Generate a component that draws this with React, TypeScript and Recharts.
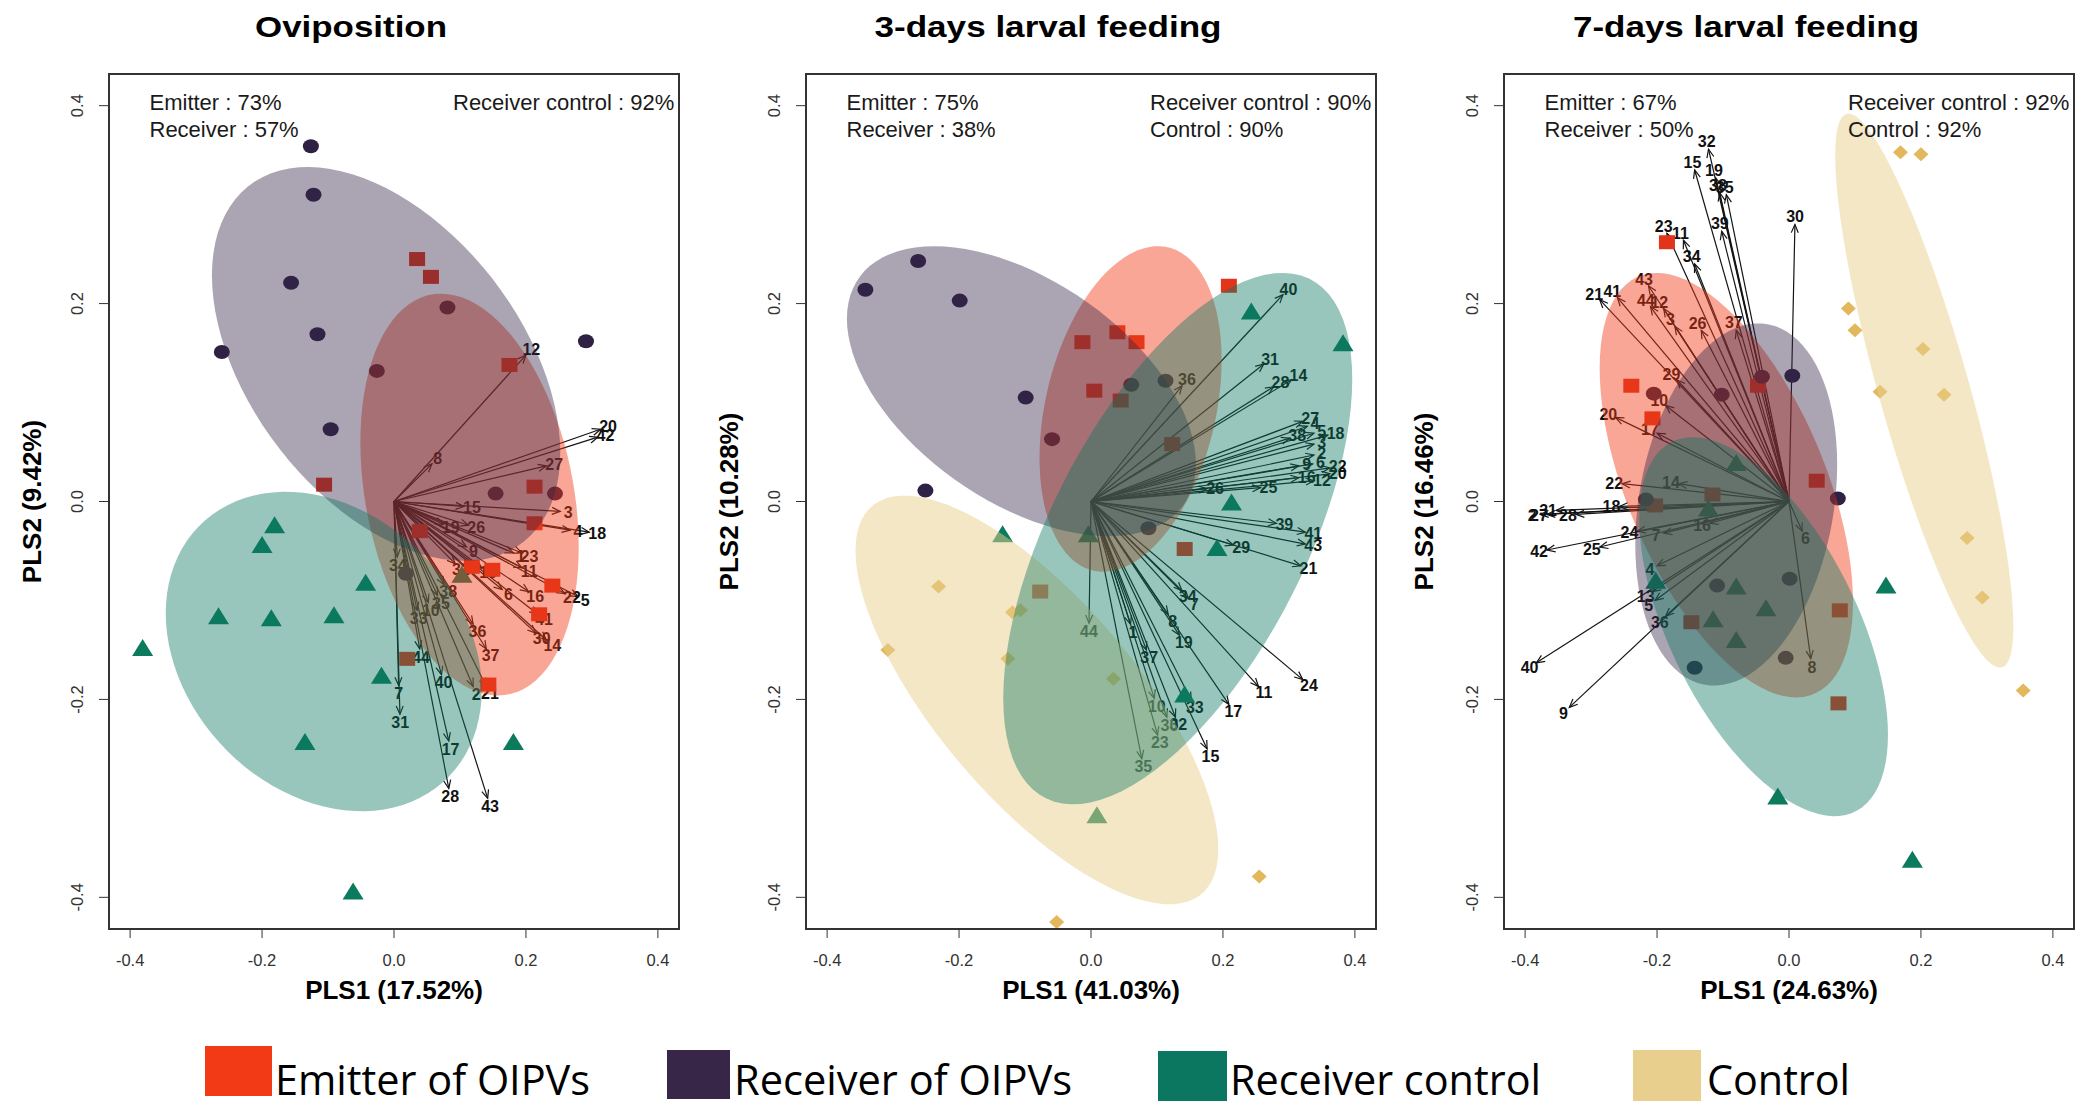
import React from "react";
import { ScatterChart, Scatter, XAxis, YAxis, ReferenceLine, ReferenceArea } from "recharts";

const FONT = "'Liberation Sans', Arial, Helvetica, sans-serif";
const LIM = 0.432;
const TICKS = [-0.4, -0.2, 0, 0.2, 0.4];

type P = [number, number];
type A = [number, number, string];
type E = { cx: number; cy: number; rx: number; ry: number; rho: number };

// group colours (legend / ellipses) and point colours
const GROUP = ["Emitter of OIPVs", "Receiver of OIPVs", "Receiver control", "Control"];
const FILL = ["#F23A17", "#372648", "#0C7760", "#E9CF8D"];
const POINT = ["#E1341B", "#2E2144", "#0B7A5D", "#E3B85C"];
const OPAC = [0.45, 0.42, 0.42, 0.5];

// ---------- Oviposition ----------
const ovEmitter: P[] = [[0.035, 0.245], [0.056, 0.227], [0.175, 0.138], [-0.106, 0.017], [0.213, 0.015], [0.213, -0.022], [0.039, -0.03], [0.118, -0.066], [0.149, -0.069], [0.24, -0.085], [0.22, -0.114], [0.02, -0.159], [0.143, -0.185]];
const ovReceiver: P[] = [[-0.126, 0.359], [-0.122, 0.31], [-0.156, 0.221], [-0.116, 0.169], [-0.261, 0.151], [0.081, 0.196], [-0.026, 0.132], [0.291, 0.162], [-0.096, 0.073], [0.154, 0.008], [0.244, 0.008], [0.018, -0.073]];
const ovRecControl: P[] = [[-0.181, -0.025], [-0.2, -0.045], [-0.043, -0.083], [-0.266, -0.117], [-0.186, -0.119], [-0.091, -0.116], [-0.381, -0.149], [-0.019, -0.177], [-0.135, -0.244], [0.181, -0.244], [-0.062, -0.395], [0.103, -0.075]];
const ovArrows: A[] = [[0.2, 0.148, "12"], [0.313, 0.073, "20"], [0.309, 0.065, "42"], [0.231, 0.036, "27"], [0.0575, 0.038, "8"], [0.106, -0.005, "15"], [0.252, -0.01, "3"], [0.267, -0.029, "4"], [0.296, -0.031, "18"], [0.075, -0.023, "19"], [0.113, -0.024, "26"], [0.181, -0.052, "1"], [0.194, -0.052, "23"], [0.194, -0.067, "11"], [0.11, -0.046, "9"], [0.093, -0.063, "32"], [0.133, -0.067, "13"], [0.164, -0.089, "6"], [0.204, -0.091, "16"], [0.259, -0.093, "22"], [0.279, -0.096, "5"], [0.218, -0.114, "41"], [0.215, -0.133, "30"], [0.231, -0.14, "14"], [0.12, -0.124, "36"], [0.14, -0.149, "37"], [0.076, -0.084, "38"], [0.066, -0.095, "35"], [0.005, -0.056, "34"], [0.035, -0.11, "33"], [0.052, -0.102, "10"], [0.039, -0.149, "44"], [0.072, -0.175, "40"], [0.12, -0.187, "2"], [0.14, -0.187, "21"], [0.007, -0.186, "7"], [0.009, -0.215, "31"], [0.083, -0.242, "17"], [0.083, -0.29, "28"], [0.142, -0.3, "43"]];
// ellipses: emitter, receiver, receiver control (null = absent)
const ovEllipses: (E | null)[] = [
  { cx: 0.1145, cy: 0.007, rx: 0.1655, ry: 0.203, rho: -0.26 },
  { cx: -0.012, cy: 0.139, rx: 0.264, ry: 0.199, rho: -0.45 },
  { cx: -0.1065, cy: -0.1516, rx: 0.2395, ry: 0.1614, rho: -0.24 },
  null,
];

// ---------- 3-days larval feeding ----------
const l3Emitter: P[] = [[0.209, 0.218], [-0.013, 0.161], [0.04, 0.171], [0.069, 0.161], [0.005, 0.112], [0.045, 0.102], [0.123, 0.058], [0.142, -0.048], [-0.077, -0.091]];
const l3Receiver: P[] = [[-0.342, 0.214], [-0.262, 0.243], [-0.199, 0.203], [-0.099, 0.105], [-0.059, 0.063], [0.061, 0.118], [0.113, 0.122], [-0.251, 0.011], [0.087, -0.027]];
const l3RecControl: P[] = [[0.243, 0.191], [0.382, 0.159], [0.213, -0.002], [-0.004, -0.034], [-0.134, -0.034], [0.191, -0.048], [0.142, -0.196], [0.009, -0.318]];
const l3Control: P[] = [[-0.231, -0.086], [-0.119, -0.112], [-0.107, -0.11], [-0.308, -0.15], [-0.126, -0.159], [0.034, -0.179], [0.255, -0.379], [-0.052, -0.425]];
const l3Arrows: A[] = [[0.291, 0.209, "40"], [0.262, 0.139, "31"], [0.304, 0.123, "14"], [0.277, 0.116, "28"], [0.138, 0.117, "36"], [0.321, 0.081, "27"], [0.328, 0.076, "4"], [0.301, 0.064, "38"], [0.338, 0.069, "5"], [0.359, 0.067, "18"], [0.338, 0.058, "3"], [0.338, 0.047, "2"], [0.315, 0.036, "9"], [0.336, 0.038, "6"], [0.362, 0.034, "22"], [0.362, 0.028, "20"], [0.315, 0.024, "16"], [0.338, 0.021, "12"], [0.176, 0.013, "26"], [0.257, 0.014, "25"], [0.281, -0.022, "39"], [0.325, -0.031, "41"], [0.325, -0.043, "43"], [0.216, -0.044, "29"], [0.318, -0.065, "21"], [0.138, -0.09, "34"], [0.148, -0.098, "7"], [0.117, -0.114, "8"], [0.134, -0.135, "19"], [-0.003, -0.123, "44"], [0.06, -0.124, "1"], [0.084, -0.15, "37"], [0.254, -0.187, "11"], [0.321, -0.18, "24"], [0.152, -0.201, "33"], [0.209, -0.205, "17"], [0.096, -0.199, "10"], [0.115, -0.218, "30"], [0.128, -0.218, "32"], [0.101, -0.236, "23"], [0.176, -0.25, "15"], [0.077, -0.26, "35"]];
const l3Ellipses: (E | null)[] = [
  { cx: 0.06, cy: 0.0935, rx: 0.138, ry: 0.1645, rho: 0.3 },
  { cx: -0.1055, cy: 0.1115, rx: 0.2645, ry: 0.1465, rho: -0.5 },
  { cx: 0.1315, cy: -0.0375, rx: 0.2645, ry: 0.2685, rho: 0.6 },
  { cx: -0.082, cy: -0.2005, rx: 0.275, ry: 0.2065, rho: -0.73 },
];

// ---------- 7-days larval feeding ----------
const l7Emitter: P[] = [[-0.185, 0.262], [-0.239, 0.117], [-0.207, 0.084], [-0.047, 0.117], [0.042, 0.021], [-0.116, 0.007], [-0.203, -0.004], [0.077, -0.11], [-0.148, -0.122], [0.075, -0.204]];
const l7Receiver: P[] = [[-0.205, 0.109], [-0.102, 0.108], [-0.041, 0.126], [0.005, 0.127], [0.074, 0.003], [-0.217, 0.002], [0.001, -0.078], [-0.109, -0.085], [-0.005, -0.158], [-0.143, -0.168]];
const l7RecControl: P[] = [[-0.08, 0.038], [-0.122, -0.008], [-0.202, -0.081], [-0.08, -0.087], [-0.035, -0.109], [-0.115, -0.12], [-0.08, -0.141], [0.147, -0.086], [-0.017, -0.299], [0.187, -0.363]];
const l7Control: P[] = [[0.169, 0.353], [0.2, 0.351], [0.09, 0.195], [0.1, 0.173], [0.203, 0.154], [0.138, 0.111], [0.235, 0.108], [0.27, -0.037], [0.293, -0.097], [0.355, -0.191]];
const l7Arrows: A[] = [[-0.122, 0.356, "32"], [-0.143, 0.335, "15"], [-0.111, 0.327, "19"], [-0.105, 0.312, "38"], [-0.095, 0.31, "35"], [0.009, 0.28, "30"], [-0.102, 0.273, "39"], [-0.185, 0.271, "23"], [-0.16, 0.264, "11"], [-0.143, 0.24, "34"], [-0.213, 0.218, "43"], [-0.287, 0.204, "21"], [-0.26, 0.206, "41"], [-0.21, 0.197, "44"], [-0.19, 0.195, "12"], [-0.173, 0.177, "3"], [-0.133, 0.173, "26"], [-0.08, 0.173, "37"], [-0.17, 0.123, "29"], [-0.187, 0.097, "10"], [-0.263, 0.085, "20"], [-0.2, 0.069, "17"], [-0.167, 0.018, "14"], [-0.253, 0.018, "22"], [-0.257, -0.005, "18"], [-0.367, -0.013, "27"], [-0.353, -0.009, "31"], [-0.377, -0.013, "2"], [-0.323, -0.013, "28"], [-0.12, -0.022, "16"], [0.02, -0.03, "6"], [-0.23, -0.03, "24"], [-0.19, -0.032, "7"], [-0.367, -0.049, "42"], [-0.287, -0.046, "25"], [-0.2, -0.065, "4"], [-0.207, -0.091, "13"], [-0.203, -0.1, "5"], [-0.187, -0.116, "36"], [0.033, -0.159, "8"], [-0.383, -0.163, "40"], [-0.333, -0.208, "9"]];
const l7Ellipses: (E | null)[] = [
  { cx: -0.095, cy: 0.0165, rx: 0.192, ry: 0.2145, rho: -0.55 },
  { cx: -0.08, cy: -0.003, rx: 0.153, ry: 0.183, rho: 0.22 },
  { cx: -0.0385, cy: -0.1265, rx: 0.1885, ry: 0.1915, rho: -0.57 },
  { cx: 0.205, cy: 0.112, rx: 0.135, ry: 0.28, rho: -0.85 },
];

const TITLES = ["Oviposition", "3-days larval feeding", "7-days larval feeding"];
const XLABELS = ["PLS1 (17.52%)", "PLS1 (41.03%)", "PLS1 (24.63%)"];
const YLABELS = ["PLS2 (9.42%)", "PLS2 (10.28%)", "PLS2 (16.46%)"];
const NOTE_LEFT = [["Emitter : 73%", "Receiver : 57%"], ["Emitter : 75%", "Receiver : 38%"], ["Emitter : 67%", "Receiver : 50%"]];
const NOTE_RIGHT = [["Receiver control : 92%"], ["Receiver control : 90%", "Control : 90%"], ["Receiver control : 92%", "Control : 92%"]];

// layout
const PLOT_LEFT = [109, 806, 1504];
const PLOT_W = 570;
const PLOT_TOP = 74;
const CH_H = 1000;
const X_AX_H = 71;
const TITLE_W = [192, 347, 346];
const YLAB_OFF = [68, 68, 71];
const LEGEND_BOX = [[205, 1046, 67, 50], [667, 1050, 63, 49], [1158, 1051, 69, 50], [1633, 1050, 68, 51]];
const LEGEND_TXT = [[275, 315], [734, 338], [1230, 311], [1707, 143]];

const toObj = (d: P[]) => d.map(([x, y]) => ({ x, y }));

function outline(e: E) {
  const d = Math.acos(e.rho);
  const pts: { x: number; y: number }[] = [];
  for (let i = 0; i < 96; i++) {
    const t = (i / 96) * Math.PI * 2;
    pts.push({ x: e.cx + e.rx * Math.cos(t), y: e.cy + e.ry * Math.cos(t - d) });
  }
  return pts;
}

const Square = (p: any) => <rect x={p.cx - 8} y={p.cy - 7} width={16} height={14} fill={POINT[0]} />;
const Dot = (p: any) => <ellipse cx={p.cx} cy={p.cy} rx={8} ry={7} fill={POINT[1]} />;
const Tri = (p: any) => (
  <polygon points={`${p.cx},${p.cy - 10} ${p.cx - 10.5},${p.cy + 7} ${p.cx + 10.5},${p.cy + 7}`} fill={POINT[2]} />
);
const Diamond = (p: any) => (
  <polygon points={`${p.cx},${p.cy - 7} ${p.cx + 7.5},${p.cy} ${p.cx},${p.cy + 7} ${p.cx - 7.5},${p.cy}`} fill={POINT[3]} />
);
const SHAPES = [Square, Dot, Tri, Diamond];

function arrowShape(label: string) {
  return (p: any) => {
    const { x1, y1, x2, y2 } = p;
    const dx = x2 - x1;
    const dy = y2 - y1;
    const len = Math.hypot(dx, dy) || 1;
    const ux = dx / len;
    const uy = dy / len;
    const h = 9;
    const a = 0.4;
    const bx = -ux;
    const by = -uy;
    const l1x = x2 + h * (bx * Math.cos(a) - by * Math.sin(a));
    const l1y = y2 + h * (bx * Math.sin(a) + by * Math.cos(a));
    const l2x = x2 + h * (bx * Math.cos(-a) - by * Math.sin(-a));
    const l2y = y2 + h * (bx * Math.sin(-a) + by * Math.cos(-a));
    return (
      <g>
        <line x1={x1} y1={y1} x2={x2} y2={y2} stroke="#141414" strokeWidth={1.2} />
        <path d={`M${l1x},${l1y}L${x2},${y2}L${l2x},${l2y}`} fill="none" stroke="#141414" strokeWidth={1.2} />
        <text x={x2 + ux * 8} y={y2 + uy * 8} dy="0.36em" textAnchor="middle" fontFamily={FONT} fontWeight="bold" fontSize={16} fill="#111">
          {label}
        </text>
      </g>
    );
  };
}

const YTick = (p: any) => (
  <text transform={`translate(${p.x - 16},${p.y}) rotate(-90)`} textAnchor="middle" fontFamily={FONT} fontSize={16.5} fill="#333">
    {Number(p.payload.value).toFixed(1)}
  </text>
);

type PanelProps = { idx: number; groups: (P[] | null)[]; arrows: A[]; ellipses: (E | null)[] };

function Panel({ idx, groups, arrows, ellipses }: PanelProps) {
  const L = PLOT_LEFT[idx];
  const ellOrder = [3, 0, 1, 2];
  return (
    <div style={{ position: "absolute", left: L - 100, top: 0 }}>
      <ScatterChart width={100 + PLOT_W + 6} height={CH_H} margin={{ top: PLOT_TOP, right: 6, bottom: 0, left: 0 }}>
        <XAxis
          type="number"
          dataKey="x"
          domain={[-LIM, LIM]}
          ticks={TICKS}
          interval={0}
          allowDataOverflow
          axisLine={false}
          tickLine={{ stroke: "#333" }}
          tickSize={9}
          tickMargin={16}
          height={X_AX_H}
          tick={{ fill: "#333", fontSize: 16.5, fontFamily: FONT }}
          tickFormatter={(v: number) => v.toFixed(1)}
        />
        <YAxis
          type="number"
          dataKey="y"
          domain={[-LIM, LIM]}
          ticks={TICKS}
          interval={0}
          allowDataOverflow
          axisLine={false}
          tickLine={{ stroke: "#333" }}
          tickSize={10}
          tickMargin={0}
          width={100}
          tick={<YTick />}
        />
        {arrows.map((a, i) => (
          <ReferenceLine
            key={"a" + i}
            segment={[{ x: 0, y: 0 }, { x: a[0], y: a[1] }]}
            ifOverflow="visible"
            zIndex={610}
            shape={arrowShape(a[2])}
          />
        ))}
        {groups.map((g, gi) =>
          g ? (
            <Scatter key={"p" + gi} data={toObj(g)} shape={SHAPES[gi]} isAnimationActive={false} zIndex={620} />
          ) : null
        )}
        {ellOrder.map((gi) => {
          const e = ellipses[gi];
          if (!e) return null;
          return (
            <Scatter
              key={"e" + gi}
              data={outline(e)}
              shape={() => <g />}
              lineType="joint"
              isAnimationActive={false}
              zIndex={630}
              line={(lp: any) => (
                <path
                  d={lp.points.map((q: any, i: number) => `${i ? "L" : "M"}${q.x},${q.y}`).join("") + "Z"}
                  fill={FILL[gi]}
                  fillOpacity={OPAC[gi]}
                  stroke="none"
                />
              )}
            />
          );
        })}
        <ReferenceArea x1={-LIM} x2={LIM} y1={-LIM} y2={LIM} fillOpacity={0} stroke="#333" strokeWidth={2} ifOverflow="visible" zIndex={700} />
      </ScatterChart>
    </div>
  );
}

export default function App() {
  const plotBottom = CH_H - X_AX_H;
  const midY = (PLOT_TOP + plotBottom) / 2;
  return (
    <div style={{ position: "absolute", left: 0, top: 0, width: 2080, height: 1101, background: "#fff", overflow: "hidden" }}>
      <Panel idx={0} groups={[ovEmitter, ovReceiver, ovRecControl, null]} arrows={ovArrows} ellipses={ovEllipses} />
      <Panel idx={1} groups={[l3Emitter, l3Receiver, l3RecControl, l3Control]} arrows={l3Arrows} ellipses={l3Ellipses} />
      <Panel idx={2} groups={[l7Emitter, l7Receiver, l7RecControl, l7Control]} arrows={l7Arrows} ellipses={l7Ellipses} />
      <svg width={2080} height={1101} style={{ position: "absolute", left: 0, top: 0, pointerEvents: "none" }}>
        {TITLES.map((t, i) => {
          const cx = PLOT_LEFT[i] + PLOT_W / 2;
          return (
            <g key={t}>
              <text x={cx - 43} y={36.5} textAnchor="middle" fontFamily={FONT} fontWeight="bold" fontSize={30} textLength={TITLE_W[i]} lengthAdjust="spacingAndGlyphs">
                {t}
              </text>
              <text x={cx} y={999} textAnchor="middle" fontFamily={FONT} fontWeight="bold" fontSize={26}>
                {XLABELS[i]}
              </text>
              <text transform={`translate(${PLOT_LEFT[i] - YLAB_OFF[i]},${midY}) rotate(-90)`} textAnchor="middle" fontFamily={FONT} fontWeight="bold" fontSize={26}>
                {YLABELS[i]}
              </text>
              {NOTE_LEFT[i].map((s, k) => (
                <text key={s} x={PLOT_LEFT[i] + 40.5} y={109.5 + k * 27.5} fontFamily={FONT} fontSize={22} fill="#1a1a1a">
                  {s}
                </text>
              ))}
              {NOTE_RIGHT[i].map((s, k) => (
                <text key={s} x={PLOT_LEFT[i] + 344} y={109.5 + k * 27.5} fontFamily={FONT} fontSize={22} fill="#1a1a1a">
                  {s}
                </text>
              ))}
            </g>
          );
        })}
        {GROUP.map((g, i) => (
          <g key={g}>
            <rect x={LEGEND_BOX[i][0]} y={LEGEND_BOX[i][1]} width={LEGEND_BOX[i][2]} height={LEGEND_BOX[i][3]} fill={FILL[i]} />
            <text x={LEGEND_TXT[i][0]} y={1095} fontFamily="'Open Sans', 'DejaVu Sans', sans-serif" fontSize={42} textLength={LEGEND_TXT[i][1]} lengthAdjust="spacingAndGlyphs" fill="#000">
              {g}
            </text>
          </g>
        ))}
      </svg>
    </div>
  );
}
